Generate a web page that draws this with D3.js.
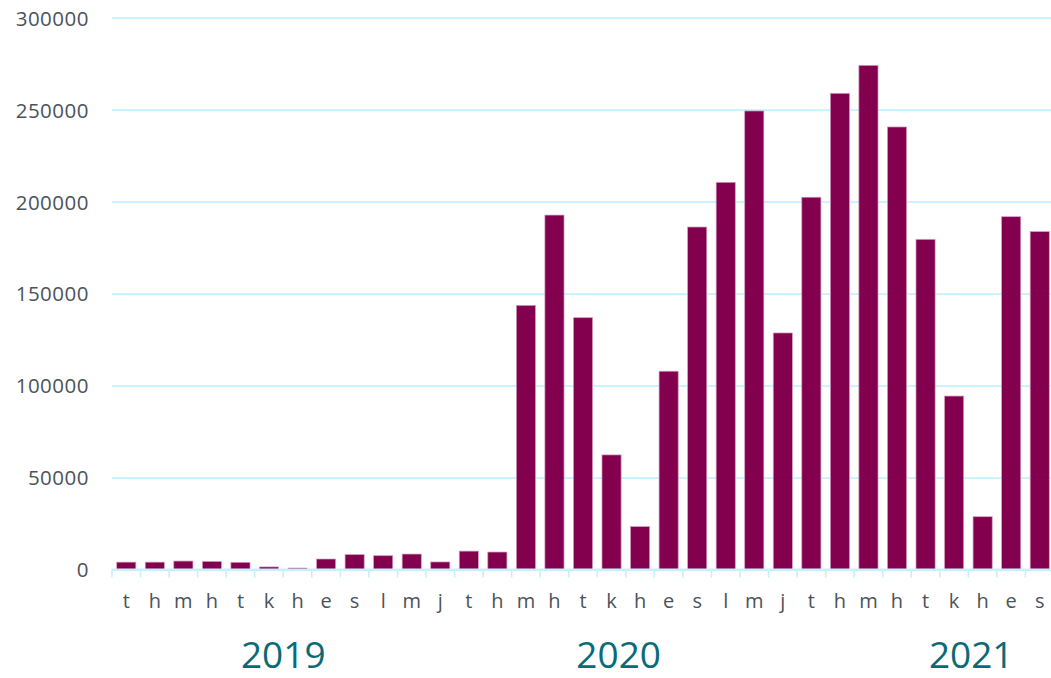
<!DOCTYPE html>
<meta charset="utf-8">
<style>
body { margin: 0; background: #fff; }
text { font-family: "Open Sans", sans-serif; }
</style>
<body>
<script src="https://cdnjs.cloudflare.com/ajax/libs/d3/7.8.5/d3.min.js"></script>
<script>
// monthly values, jan 2019 - sep 2021
var monthLetters = ["t","h","m","h","t","k","h","e","s","l","m","j"];
var values2019 = [4000, 4000, 4600, 4400, 3900, 1400, 800, 5700, 8100, 7500, 8400, 4100];
var values2020 = [10000, 9500, 143600, 192700, 136900, 62300, 23300, 107800, 186200, 210500, 249300, 128600];
var values2021 = [202400, 258900, 274100, 240600, 179500, 94300, 28700, 191800, 183700];
var years = ["2019", "2020", "2021"];
var yTicks = [0, 50000, 100000, 150000, 200000, 250000, 300000];

var data = [];
[values2019, values2020, values2021].forEach(function(arr, yi) {
  arr.forEach(function(v, mi) {
    data.push({ i: data.length, year: years[yi], month: monthLetters[mi], value: v });
  });
});

var width = 1051, height = 678;
var plotLeft = 112, plotRight = 1054, plotTop = 17.7, plotBottom = 569.5;

var svg = d3.select("body").append("svg")
  .attr("width", width)
  .attr("height", height);

var x = d3.scaleBand()
  .domain(data.map(function(d) { return d.i; }))
  .range([plotLeft, plotRight])
  .paddingInner(0.33)
  .paddingOuter(0.165);

var y = d3.scaleLinear()
  .domain([0, 300000])
  .range([plotBottom, plotTop]);

var step = x.step();

// gridlines + y labels
var yAxis = svg.append("g")
  .attr("transform", "translate(" + plotLeft + ",0)")
  .call(d3.axisLeft(y).tickValues(yTicks).tickSize(-(width - plotLeft)).tickFormat(d3.format("d")));
yAxis.select(".domain").remove();
yAxis.selectAll(".tick line")
  .attr("stroke", "#c4f1fb")
  .attr("stroke-width", 1.8);
yAxis.selectAll(".tick text")
  .attr("x", -23)
  .attr("dy", "0.36em")
  .attr("fill", "#4b535a")
  .style("font-size", "20.5px")
  .style("letter-spacing", "0.5px");

// bars
svg.append("g")
  .selectAll("rect")
  .data(data)
  .enter().append("rect")
  .attr("x", function(d) { return x(d.i); })
  .attr("y", function(d) { return y(d.value); })
  .attr("width", x.bandwidth())
  .attr("height", function(d) { return y(0) - y(d.value); })
  .attr("fill", "#83004f")
  .attr("stroke", "#d39cbd")
  .attr("stroke-width", 0.7);

// bottom axis line and ticks at band edges
var xAxis = svg.append("g");
xAxis.append("line")
  .attr("x1", plotLeft).attr("x2", width)
  .attr("y1", plotBottom).attr("y2", plotBottom)
  .attr("stroke", "#c4f1fb")
  .attr("stroke-width", 1.8);
xAxis.selectAll(".tk")
  .data(data)
  .enter().append("line")
  .attr("class", "tk")
  .attr("x1", function(d) { return x(d.i) - x.paddingInner() * step / 2; })
  .attr("x2", function(d) { return x(d.i) - x.paddingInner() * step / 2; })
  .attr("y1", plotBottom)
  .attr("y2", plotBottom + 8)
  .attr("stroke", "#c4f1fb")
  .attr("stroke-width", 1.6);

// month letters
svg.append("g")
  .selectAll("text")
  .data(data)
  .enter().append("text")
  .attr("x", function(d) { return x(d.i) + x.bandwidth() / 2; })
  .attr("y", 608)
  .attr("text-anchor", "middle")
  .attr("fill", "#4b535a")
  .style("font-size", "20px")
  .text(function(d) { return d.month; });

// year labels
var yearCenter = [6, 17.75, 30.1];
svg.append("g")
  .selectAll("text")
  .data(years)
  .enter().append("text")
  .attr("x", function(d, k) { return plotLeft + yearCenter[k] * step; })
  .attr("y", 668)
  .attr("text-anchor", "middle")
  .attr("fill", "#0a6b78")
  .style("font-size", "37px")
  .text(function(d) { return d; });
</script>
</body>
